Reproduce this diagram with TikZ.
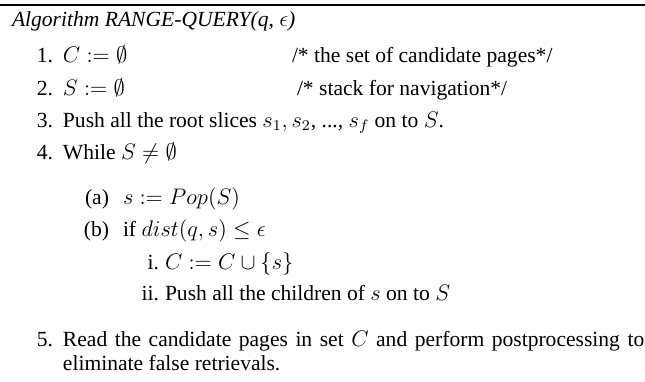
\documentclass[tikz,border=0pt]{standalone}
\usepackage[no-math]{fontspec}
\setmainfont{Liberation Serif}
\begin{document}
\begin{tikzpicture}[x=0.5333pt,y=-0.5333pt,
  every node/.style={inner sep=0pt,outer sep=0pt,font=\fontsize{11.5}{13.3}\selectfont},
  lab/.style={anchor=base east},
  txt/.style={anchor=base west},
  rulestyle/.style={line width=1.1pt}]
\useasboundingbox (0,0) rectangle (645,381);
\coordinate (rl) at (0,5);
\coordinate (rr) at (645,5);
\draw[rulestyle] (rl) -- (rr);
\node[txt] (title) at (12,26) {\textit{Algorithm RANGE-QUERY(q, $\epsilon$)}};
\node[lab] (l1) at (53,62) {1.};
\node[txt] (t1) at (63,62) {$C := \emptyset$};
\node[txt] (c1) at (292,62) {/* the set of candidate pages*/};
\node[lab] (l2) at (53,95) {2.};
\node[txt] (t2) at (63,95) {$S := \emptyset$};
\node[txt] (c2) at (297,95) {/* stack for navigation*/};
\node[lab] (l3) at (53,127) {3.};
\node[txt] (t3) at (63,127) {Push all the root slices $s_1, s_2$, ..., $s_f$ on to $S$.};
\node[lab] (l4) at (53,159) {4.};
\node[txt] (t4) at (63,159) {While $S \neq \emptyset$};
\node[lab] (la) at (109,204) {(a)};
\node[txt] (ta) at (123,204) {$s := Pop(S)$};
\node[lab] (lb) at (109,236) {(b)};
\node[txt] (tb) at (123,236) {if $dist(q, s) \leq \epsilon$};
\node[lab] (li) at (159,269) {i.};
\node[txt] (ti) at (165,269) {$C := C \cup \{s\}$};
\node[lab] (lii) at (159,300) {ii.};
\node[txt] (tii) at (165,300) {Push all the children of $s$ on to $S$};
\node[lab] (l5) at (53,346) {5.};
\node[txt,text width=310pt,align=justify] (t5) at (63,346) {Read the candidate pages in set $C$ and perform postprocessing to\linebreak eliminate false retrievals.};
\end{tikzpicture}
\end{document}
